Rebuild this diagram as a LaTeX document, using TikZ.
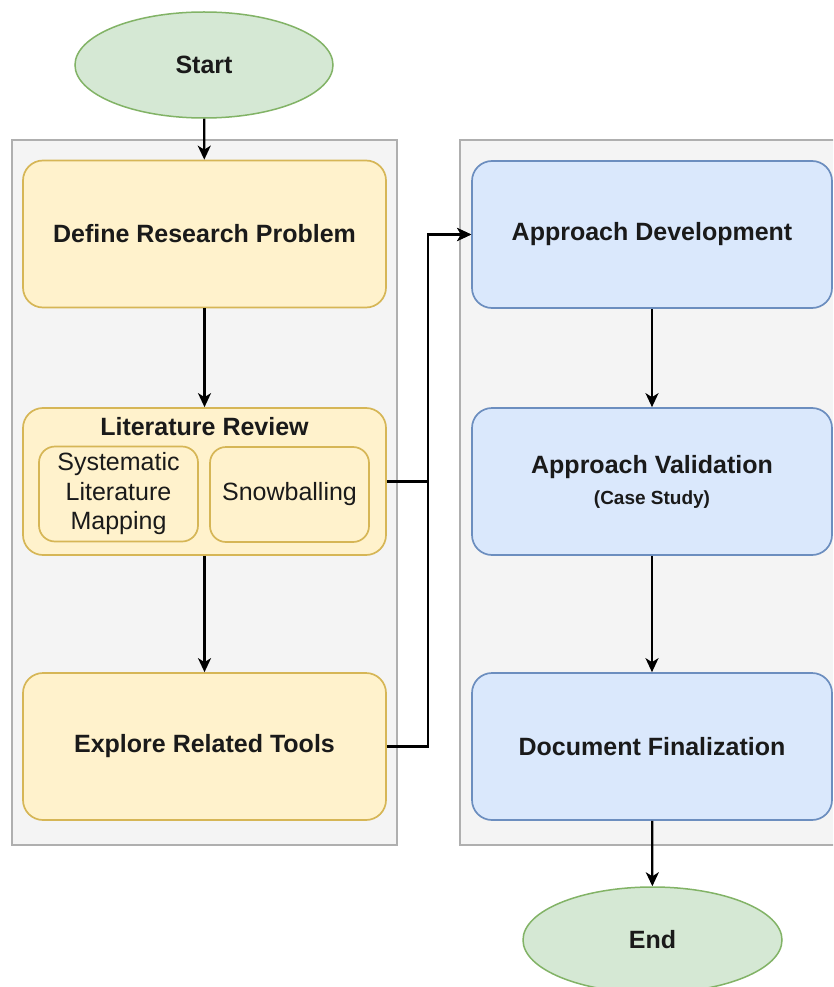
\documentclass[tikz,border=0pt]{standalone}
\usepackage{fontspec}
\setmainfont{Liberation Sans}
\usetikzlibrary{shapes.geometric,arrows.meta}
\definecolor{gfill}{HTML}{D5E8D4}
\definecolor{gline}{HTML}{82B366}
\definecolor{yfill}{HTML}{FFF2CC}
\definecolor{yline}{HTML}{D6B656}
\definecolor{bfill}{HTML}{DAE8FC}
\definecolor{bline}{HTML}{6C8EBF}
\definecolor{cfill}{HTML}{F4F4F4}
\definecolor{cline}{HTML}{AFAFAF}
\definecolor{txt}{HTML}{1A1A1A}
\tikzset{
  term/.style={ellipse, draw=gline, fill=gfill, line width=1.5pt, minimum width=258pt, minimum height=106pt, inner sep=0pt, font=\fontsize{25}{30}\selectfont\bfseries, text=txt},
  cont/.style={rectangle, draw=cline, fill=cfill, line width=1.8pt, inner sep=0pt},
  ybox/.style={rectangle, rounded corners=20pt, draw=yline, fill=yfill, line width=1.7pt, minimum width=363pt, minimum height=147pt, inner sep=0pt, font=\fontsize{25}{30}\selectfont\bfseries, text=txt, align=center},
  bbox/.style={rectangle, rounded corners=20pt, draw=bline, fill=bfill, line width=1.7pt, minimum width=360pt, minimum height=147pt, inner sep=0pt, font=\fontsize{25}{30}\selectfont\bfseries, text=txt, align=center},
  ibox/.style={rectangle, rounded corners=16pt, draw=yline, fill=yfill, line width=1.7pt, minimum width=159pt, minimum height=95pt, inner sep=0pt, font=\fontsize{25}{29.5}\selectfont, text=txt, align=center},
  lbl/.style={inner sep=0pt, text=txt, align=center},
  arr/.style={draw=black, line width=2.2pt, -{Stealth[length=14pt,width=13pt,inset=4pt]}},
  ln/.style={draw=black, line width=2.2pt}
}
\begin{document}
\begin{tikzpicture}[x=1pt,y=-1pt]
\useasboundingbox (0,0) rectangle (833,987);
\clip (0,0) rectangle (833,987);
\fill[white] (0,0) rectangle (833,987);
% containers
\node[cont, minimum width=385pt, minimum height=705pt] (cl) at (204.5,492.5) {};
\node[cont, minimum width=385pt, minimum height=705pt] (cr) at (652.5,492.5) {};
% terminals
\node[term] (start) at (204,65) {Start};
\node[term, minimum width=259pt] (end) at (652.5,940) {End};
% left column
\node[ybox] (def) at (204.5,234) {Define Research Problem};
\node[ybox] (lit) at (204.5,481.5) {};
\node[lbl, font=\fontsize{25}{30}\selectfont\bfseries] (littitle) at (204.5,427) {Literature Review};
\node[ibox] (sys) at (118.5,494) {Systematic\\Literature\\Mapping};
\node[ibox] (snow) at (289.5,494.5) {Snowballing};
\node[ybox] (exp) at (204.5,746.5) {Explore Related Tools};
% right column
\node[bbox] (dev) at (652,234.5) {Approach Development};
\node[bbox] (val) at (652,481.5) {};
\node[lbl, font=\fontsize{25}{30}\selectfont\bfseries] (valt) at (652,467) {Approach Validation};
\node[lbl, font=\fontsize{19}{23}\selectfont\bfseries] (vals) at (652,500) {(Case Study)};
\node[bbox] (doc) at (652,746.5) {Document Finalization};
% junctions
\coordinate (j1) at (428,481.5);
\coordinate (j2) at (428,746.5);
% connectors
\draw[arr] (start) -- (def);
\draw[arr] (def) -- (lit);
\draw[arr] (lit) -- (exp);
\draw[arr] (lit.east) -- (j1) |- (dev.west);
\draw[arr] (exp.east) -- (j2) |- (dev.west);
\draw[arr] (dev) -- (val);
\draw[arr] (val) -- (doc);
\draw[arr] (doc) -- (end);
\end{tikzpicture}
\end{document}
